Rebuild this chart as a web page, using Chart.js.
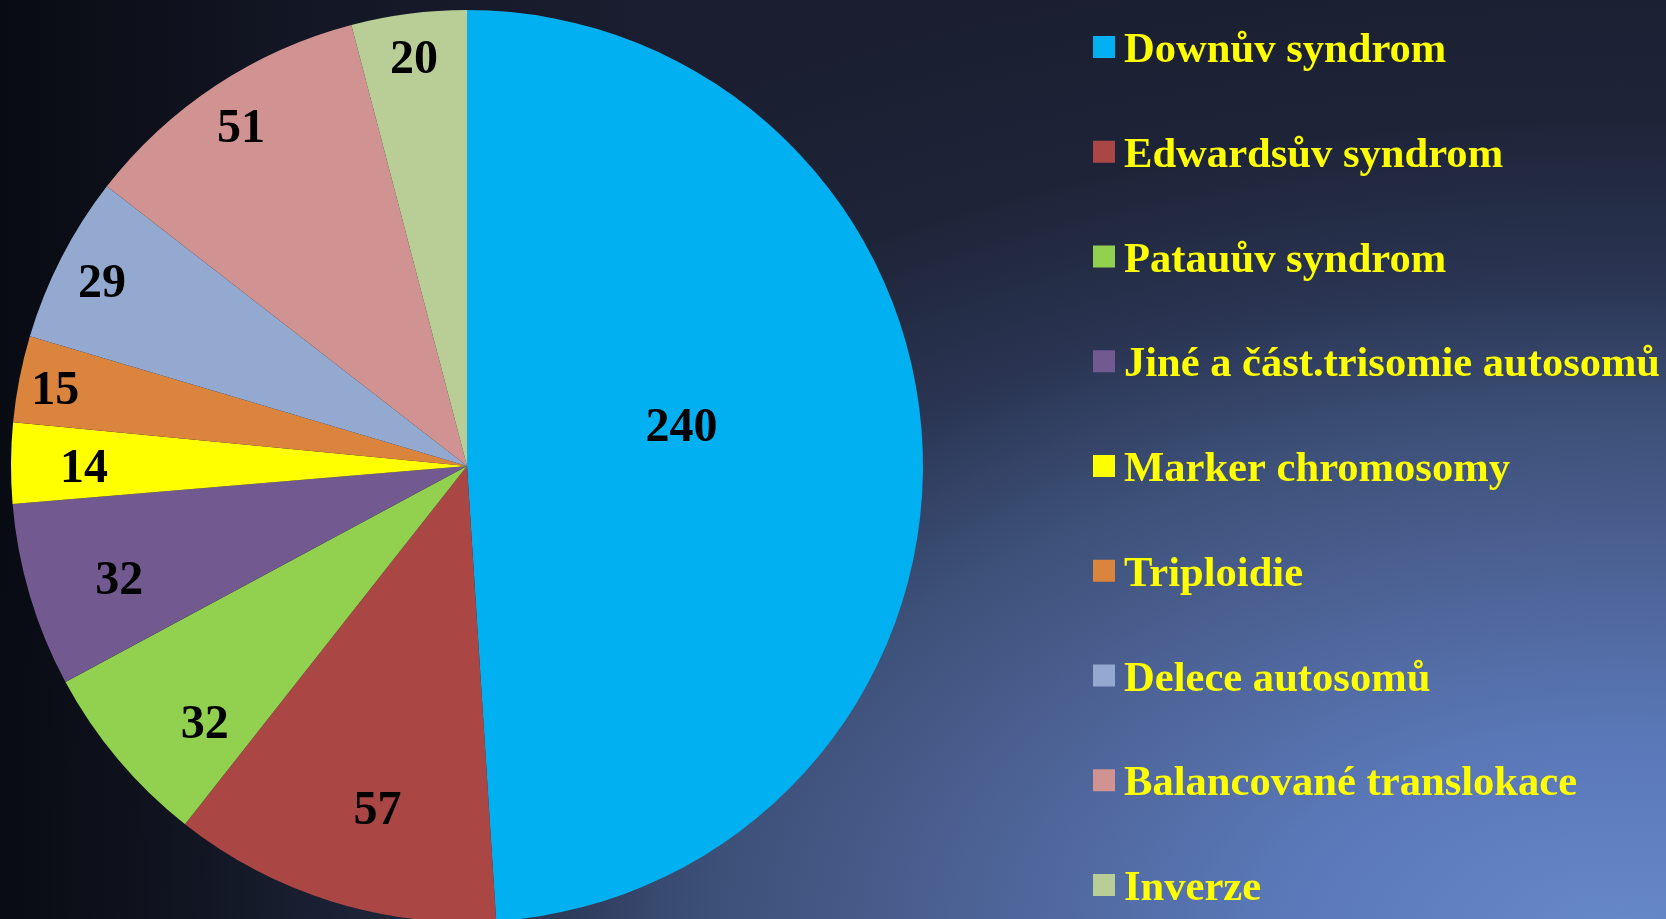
<!DOCTYPE html>
<html>
<head>
<meta charset="utf-8">
<script src="https://cdn.jsdelivr.net/npm/chart.js@4.4.1/dist/chart.umd.min.js"></script>
<style>
  html, body {
    margin: 0;
    padding: 0;
    width: 1666px;
    height: 919px;
    overflow: hidden;
  }
  body {
    background:
      linear-gradient(to right, rgba(6, 8, 14, 0.85) 0%, rgba(6, 8, 14, 0.35) 18%, rgba(6, 8, 14, 0) 40%),
      radial-gradient(1750px 1000px at 1620px 940px, #6788ca 0%, #5a78b8 20%, #4a5f90 40%, #3d5078 52%, #2a3553 66%, #1e2438 82%, #1a1e30 100%);
  }
  canvas { display: block; }
</style>
</head>
<body>
<canvas id="chart" width="1666" height="924"></canvas>
<script>
// values
var categories = [
  'Downův syndrom',
  'Edwardsův syndrom',
  'Patauův syndrom',
  'Jiné a část.trisomie autosomů',
  'Marker chromosomy',
  'Triploidie',
  'Delece autosomů',
  'Balancované translokace',
  'Inverze'
];
var counts = [240, 57, 32, 32, 14, 15, 29, 51, 20];
var sliceColors = ['#00b0f0', '#aa4644', '#92d050', '#725a90', '#ffff00', '#db843d', '#93a9cf', '#d19392', '#b9cd96'];

// draws the numbers inside the slices (Excel style, close to the rim)
var sliceLabels = {
  id: 'sliceLabels',
  afterDatasetsDraw: function(chart, args, opts) {
    var ctx = chart.ctx;
    var meta = chart.getDatasetMeta(0);
    ctx.save();
    ctx.font = 'bold 48px "Liberation Serif", "Times New Roman", serif';
    ctx.fillStyle = '#000';
    ctx.textAlign = 'center';
    ctx.textBaseline = 'middle';
    meta.data.forEach(function(arc, i) {
      var p = arc.getProps(['x', 'y', 'startAngle', 'endAngle', 'outerRadius'], true);
      var a = (p.startAngle + p.endAngle) / 2 + (opts.shift[i] || 0) * Math.PI / 180;
      var r = p.outerRadius * opts.radius[i];
      ctx.fillText(String(chart.data.datasets[0].data[i]), p.x + Math.cos(a) * r, p.y + Math.sin(a) * r + 6);
    });
    ctx.restore();
  }
};

// legend on the right, squeezed like the PowerPoint one
var sideLegend = {
  id: 'sideLegend',
  afterDraw: function(chart, args, opts) {
    var ctx = chart.ctx;
    var ds = chart.data.datasets[0];
    ctx.save();
    ctx.font = 'bold 42.6px "Liberation Serif", "Times New Roman", serif';
    ctx.textAlign = 'left';
    ctx.textBaseline = 'alphabetic';
    chart.data.labels.forEach(function(txt, i) {
      var cy = opts.top + i * opts.step;
      ctx.fillStyle = ds.backgroundColor[i];
      ctx.fillRect(opts.x, cy - 11, 22, 22);
      ctx.fillStyle = '#ffff00';
      ctx.fillText(txt, opts.x + 31, cy + 15, opts.maxWidth);
    });
    ctx.restore();
  }
};

new Chart(document.getElementById('chart'), {
  type: 'pie',
  data: {
    labels: categories,
    datasets: [{
      data: counts,
      backgroundColor: sliceColors,
      borderWidth: 0
    }]
  },
  options: {
    responsive: false,
    animation: false,
    devicePixelRatio: 1,
    layout: { padding: { left: 11, right: 743, top: 10, bottom: 2 } },
    plugins: {
      legend: { display: false },
      tooltip: { enabled: false },
      sliceLabels: {
        radius: [0.48, 0.77, 0.80, 0.80, 0.84, 0.92, 0.90, 0.90, 0.91],
        shift: [-9.5, -2.5, -4, -1, 0, 0, 0, 0, 0]
      },
      sideLegend: { x: 1093, top: 47, step: 104.75, maxWidth: 536 }
    }
  },
  plugins: [sliceLabels, sideLegend]
});
</script>
</body>
</html>
